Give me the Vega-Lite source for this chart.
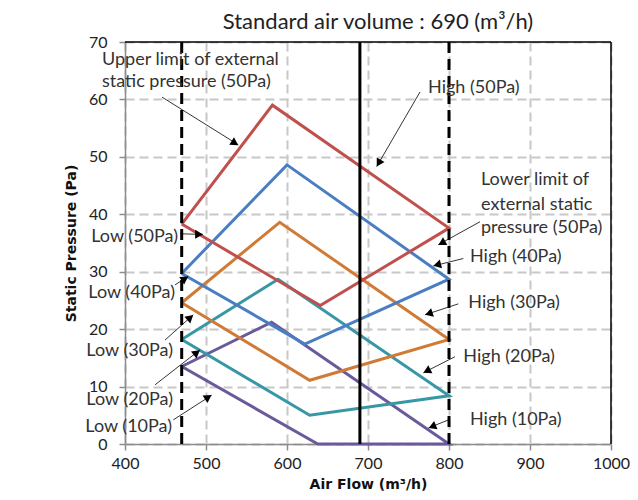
{
  "$schema": "https://vega.github.io/schema/vega-lite/v6.json",
  "autosize": {"type": "none"},
  "width": 486,
  "height": 402,
  "padding": {"left": 125, "top": 42, "right": 27, "bottom": 56},
  "background": "white",
  "config": {
    "view": {"stroke": null},
    "font": "Lato",
    "axis": {
      "gridColor": "#c8c8c8",
      "gridDash": [9, 5],
      "gridWidth": 2,
      "domainColor": "#8c8c8c",
      "domainWidth": 1.5,
      "tickColor": "#8c8c8c",
      "tickWidth": 1.5,
      "tickSize": 6,
      "labelFont": "Lato",
      "labelFontSize": 16,
      "labelColor": "#222222",
      "titleFont": "DejaVu Sans",
      "titleFontWeight": "bold",
      "titleFontSize": 14,
      "titleColor": "#111111"
    }
  },
  "title": {
    "text": "Standard air volume : 690 (m³/h)",
    "font": "Lato",
    "fontSize": 22,
    "fontWeight": "normal",
    "color": "#222222",
    "anchor": "middle",
    "dx": 10,
    "offset": 0
  },
  "datasets": {
    "curves": [
      {"series": "10Pa", "seq": 1, "flow": 470, "pressure": 13.5},
      {"series": "10Pa", "seq": 2, "flow": 581, "pressure": 21.2},
      {"series": "10Pa", "seq": 3, "flow": 800, "pressure": 0},
      {"series": "10Pa", "seq": 4, "flow": 638, "pressure": 0},
      {"series": "10Pa", "seq": 5, "flow": 470, "pressure": 13.5},
      {"series": "20Pa", "seq": 1, "flow": 470, "pressure": 18.2},
      {"series": "20Pa", "seq": 2, "flow": 589, "pressure": 28.7},
      {"series": "20Pa", "seq": 3, "flow": 800, "pressure": 8.4},
      {"series": "20Pa", "seq": 4, "flow": 628, "pressure": 5.0},
      {"series": "20Pa", "seq": 5, "flow": 470, "pressure": 18.2},
      {"series": "30Pa", "seq": 1, "flow": 470, "pressure": 24.6},
      {"series": "30Pa", "seq": 2, "flow": 591, "pressure": 38.6},
      {"series": "30Pa", "seq": 3, "flow": 800, "pressure": 18.2},
      {"series": "30Pa", "seq": 4, "flow": 628, "pressure": 11.1},
      {"series": "30Pa", "seq": 5, "flow": 470, "pressure": 24.6},
      {"series": "40Pa", "seq": 1, "flow": 470, "pressure": 29.7},
      {"series": "40Pa", "seq": 2, "flow": 600, "pressure": 48.6},
      {"series": "40Pa", "seq": 3, "flow": 800, "pressure": 28.7},
      {"series": "40Pa", "seq": 4, "flow": 622, "pressure": 17.4},
      {"series": "40Pa", "seq": 5, "flow": 470, "pressure": 29.7},
      {"series": "50Pa", "seq": 1, "flow": 470, "pressure": 38.3},
      {"series": "50Pa", "seq": 2, "flow": 582, "pressure": 59.0},
      {"series": "50Pa", "seq": 3, "flow": 800, "pressure": 37.6},
      {"series": "50Pa", "seq": 4, "flow": 641, "pressure": 24.1},
      {"series": "50Pa", "seq": 5, "flow": 470, "pressure": 38.3}
    ],
    "limits": [{"flow": 470}, {"flow": 800}],
    "standard": [{"flow": 690}],
    "arrows": [
      {"x": 445.7, "y": 60.4, "x2": 539.9, "y2": 52.1},
      {"x": 764.2, "y": 61.3, "x2": 710.7, "y2": 48.3},
      {"x": 838.3, "y": 38.7, "x2": 786.8, "y2": 34.7},
      {"x": 817.7, "y": 32.3, "x2": 780.6, "y2": 31.0},
      {"x": 811.5, "y": 24.4, "x2": 770.4, "y2": 22.5},
      {"x": 807.4, "y": 15.2, "x2": 768.3, "y2": 12.4},
      {"x": 801.2, "y": 4.3, "x2": 774.7, "y2": 2.8},
      {"x": 467.9, "y": 36.6, "x2": 496.3, "y2": 36.5},
      {"x": 461.7, "y": 27.7, "x2": 478.1, "y2": 29.2},
      {"x": 449.4, "y": 18.1, "x2": 484.3, "y2": 22.5},
      {"x": 437.0, "y": 10.3, "x2": 492.6, "y2": 16.4},
      {"x": 459.6, "y": 4.2, "x2": 507.0, "y2": 8.5}
    ],
    "heads": [
      {"x": 535.7, "y": 52.4, "ang": 122},
      {"x": 713.2, "y": 48.9, "ang": 210},
      {"x": 791.1, "y": 35.0, "ang": 241},
      {"x": 785.4, "y": 31.2, "ang": 256},
      {"x": 775.1, "y": 22.7, "ang": 252},
      {"x": 772.7, "y": 12.7, "ang": 243},
      {"x": 779.3, "y": 3.05, "ang": 248},
      {"x": 491.4, "y": 36.5, "ang": 91},
      {"x": 474.0, "y": 28.8, "ang": 57},
      {"x": 480.6, "y": 22.0, "ang": 49},
      {"x": 488.6, "y": 15.9, "ang": 52},
      {"x": 502.8, "y": 8.15, "ang": 57}
    ],
    "labelsLeft": [
      {"t": "Upper limit of external", "x": 371.6, "y": 66.9},
      {"t": "static pressure (50Pa)", "x": 371.6, "y": 63.0},
      {"t": "High (50Pa)", "x": 774.1, "y": 62.0},
      {"t": "Lower limit of", "x": 839.5, "y": 46.0},
      {"t": "external static", "x": 839.5, "y": 41.6},
      {"t": "pressure (50Pa)", "x": 839.5, "y": 37.6},
      {"t": "High (40Pa)", "x": 825.9, "y": 32.6},
      {"t": "High (30Pa)", "x": 823.8, "y": 24.5},
      {"t": "High (20Pa)", "x": 817.7, "y": 15.2},
      {"t": "High (10Pa)", "x": 825.9, "y": 4.2}
    ],
    "labelsRight": [
      {"t": "Low (50Pa)", "x": 465.4, "y": 36.1},
      {"t": "Low (40Pa)", "x": 461.7, "y": 26.3},
      {"t": "Low (30Pa)", "x": 459.3, "y": 16.2},
      {"t": "Low (20Pa)", "x": 459.3, "y": 7.7},
      {"t": "Low (10Pa)", "x": 458.0, "y": 3.0}
    ],
    "frameTop": [{"p": 70}],
    "frameRight": [{"f": 1000}]
  },
  "layer": [
    {
      "data": {"name": "curves"},
      "mark": {"type": "line", "strokeWidth": 3, "strokeJoin": "miter"},
      "encoding": {
        "x": {
          "field": "flow", "type": "quantitative",
          "scale": {"domain": [400, 1000], "nice": false, "zero": false},
          "axis": {
            "title": "Air Flow (m³/h)",
            "values": [400, 500, 600, 700, 800, 900, 1000],
            "format": "d",
            "labelPadding": 5,
            "titlePadding": 6,
            "labelFlush": false
          }
        },
        "y": {
          "field": "pressure", "type": "quantitative",
          "scale": {"domain": [0, 70], "nice": false, "zero": false},
          "axis": {
            "title": "Static Pressure (Pa)",
            "values": [0, 10, 20, 30, 40, 50, 60, 70],
            "labelPadding": 12,
            "titlePadding": 10,
            "labelFlush": false
          }
        },
        "color": {
          "field": "series", "type": "nominal",
          "scale": {
            "domain": ["10Pa", "20Pa", "30Pa", "40Pa", "50Pa"],
            "range": ["#6b5a9b", "#3797a5", "#d07b35", "#4a7ec2", "#c0504d"]
          },
          "legend": null
        },
        "order": {"field": "seq", "type": "quantitative"}
      }
    },
    {
      "data": {"name": "frameTop"},
      "mark": {"type": "rule", "color": "#000000", "strokeWidth": 1.5},
      "encoding": {"y": {"field": "p", "type": "quantitative"}}
    },
    {
      "data": {"name": "frameRight"},
      "mark": {"type": "rule", "color": "#000000", "strokeWidth": 1.5},
      "encoding": {"x": {"field": "f", "type": "quantitative"}}
    },
    {
      "data": {"name": "limits"},
      "mark": {"type": "rule", "color": "#000000", "strokeWidth": 3, "strokeDash": [11, 6]},
      "encoding": {"x": {"field": "flow", "type": "quantitative"}}
    },
    {
      "data": {"name": "standard"},
      "mark": {"type": "rule", "color": "#000000", "strokeWidth": 3},
      "encoding": {"x": {"field": "flow", "type": "quantitative"}}
    },
    {
      "data": {"name": "arrows"},
      "mark": {"type": "rule", "color": "#000000", "strokeWidth": 0.8},
      "encoding": {
        "x": {"field": "x", "type": "quantitative"},
        "y": {"field": "y", "type": "quantitative"},
        "x2": {"field": "x2"},
        "y2": {"field": "y2"}
      }
    },
    {
      "data": {"name": "heads"},
      "mark": {"type": "point", "shape": "triangle-up", "filled": true, "color": "#000000", "size": 80, "opacity": 1},
      "encoding": {
        "x": {"field": "x", "type": "quantitative"},
        "y": {"field": "y", "type": "quantitative"},
        "angle": {"field": "ang", "type": "quantitative", "scale": null}
      }
    },
    {
      "data": {"name": "labelsLeft"},
      "mark": {"type": "text", "align": "left", "baseline": "middle", "font": "Lato", "fontSize": 18, "color": "#333333"},
      "encoding": {
        "x": {"field": "x", "type": "quantitative"},
        "y": {"field": "y", "type": "quantitative"},
        "text": {"field": "t"}
      }
    },
    {
      "data": {"name": "labelsRight"},
      "mark": {"type": "text", "align": "right", "baseline": "middle", "font": "Lato", "fontSize": 18, "color": "#333333"},
      "encoding": {
        "x": {"field": "x", "type": "quantitative"},
        "y": {"field": "y", "type": "quantitative"},
        "text": {"field": "t"}
      }
    }
  ]
}
